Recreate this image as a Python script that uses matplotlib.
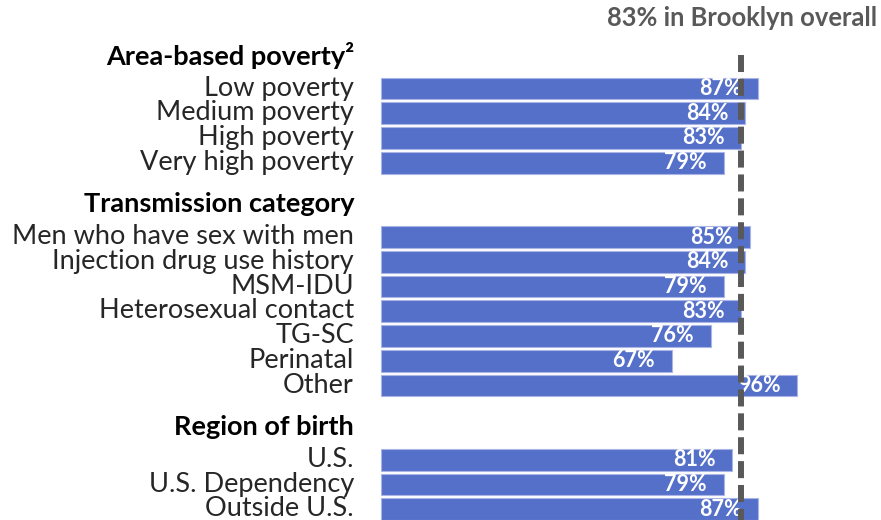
import matplotlib
matplotlib.use("Agg")
import matplotlib.pyplot as plt
from matplotlib.transforms import blended_transform_factory

plt.rcParams['font.family'] = ['Lato', 'DejaVu Sans']

# data
headings = ["Area-based poverty\u00b2", "Transmission category", "Region of birth"]
poverty_labels = ["Low poverty", "Medium poverty", "High poverty", "Very high poverty"]
poverty_values = [87, 84, 83, 79]
transmission_labels = ["Men who have sex with men", "Injection drug use history", "MSM-IDU",
                       "Heterosexual contact", "TG-SC", "Perinatal", "Other"]
transmission_values = [85, 84, 79, 83, 76, 67, 96]
region_labels = ["U.S.", "U.S. Dependency", "Outside U.S."]
region_values = [81, 79, 87]
overall = 83

groups = [(poverty_labels, poverty_values),
          (transmission_labels, transmission_values),
          (region_labels, region_values)]
group_starts = [0, 6, 15]

fig = plt.figure(figsize=(8.81, 5.2), dpi=100)
ax = fig.add_axes([381 / 881, 0, 1 - 381 / 881, 1])
ax.set_xlim(0, 500 / 4.337)
ax.set_ylim((520 - 88.5) / 24.75, -88.5 / 24.75)
ax.axis("off")

lab_tr = blended_transform_factory(fig.transFigure, ax.transData)
lab_x = 354 / 881

for head, (labels, values), start in zip(headings, groups, group_starts):
    ys = [start + i for i in range(len(labels))]
    ax.barh(ys, values, height=0.88, color="#5570c9", edgecolor="#a8b5e6",
            linewidth=0.8, clip_on=False, zorder=2)
    ax.text(lab_x, start - 1.32, head, transform=lab_tr, ha="right", va="center",
            fontsize=19.5, fontweight="bold", color="black")
    for y, lab, v in zip(ys, labels, values):
        ax.text(lab_x, y - 0.02, lab, transform=lab_tr, ha="right", va="center",
                fontsize=19.5, color="#262626")
        ax.annotate(f"{v}%", (v, y), xytext=(-12, 0), textcoords="offset points",
                    ha="right", va="center", fontsize=15.5, fontweight="bold",
                    color="white", zorder=3)

# overall reference line
line, = ax.plot([overall, overall], [(55 - 88.5) / 24.75, (520 - 88.5) / 24.75],
                color="#595959", linewidth=4.3, zorder=4, clip_on=False)
line.set_dashes([2.85, 1.15])

fig.text(877 / 881, 1 - 18 / 520, f"{overall}% in Brooklyn overall", ha="right",
         va="center", fontsize=18.4, fontweight="bold", color="#595959")

fig.savefig("out.png", dpi=100)
